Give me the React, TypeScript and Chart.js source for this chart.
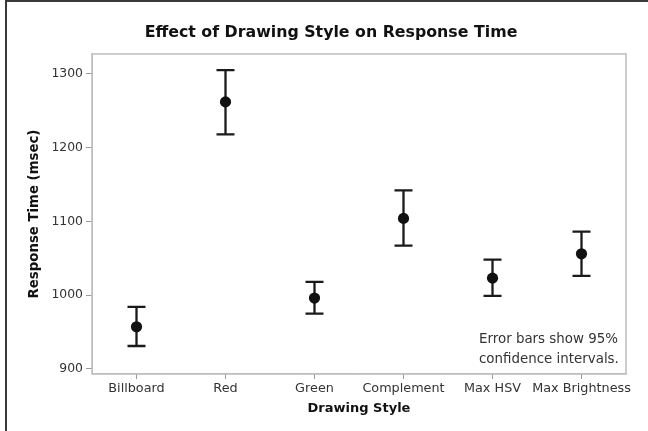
import React, { useEffect, useRef } from 'react';
import { Chart, registerables } from 'chart.js';

Chart.register(...registerables);

const categories = ['Billboard', 'Red', 'Green', 'Complement', 'Max HSV', 'Max Brightness'];
const means = [957, 1262, 996, 1104, 1023, 1056];
const lowerCI = [931, 1218, 975, 1067, 999, 1026];
const upperCI = [984, 1305, 1018, 1142, 1048, 1086];
const yTicks = [900, 1000, 1100, 1200, 1300];
const noteLines = ['Error bars show 95%', 'confidence intervals.'];

const FONT = '"DejaVu Sans", Verdana, sans-serif';

export default function App() {
  const ref = useRef<HTMLCanvasElement | null>(null);

  useEffect(() => {
    if (!ref.current) return;

    const errorBars = {
      id: 'errorBars',
      beforeDatasetsDraw(chart: any) {
        const { ctx, scales } = chart;
        const xs = scales.x;
        const ys = scales.y;
        ctx.save();
        ctx.strokeStyle = '#1a1a1a';
        ctx.lineWidth = 2.3;
        const cap = 9;
        categories.forEach((_, i) => {
          const x = xs.getPixelForValue(i);
          const yl = ys.getPixelForValue(lowerCI[i]);
          const yu = ys.getPixelForValue(upperCI[i]);
          ctx.beginPath();
          ctx.moveTo(x, yl);
          ctx.lineTo(x, yu);
          ctx.moveTo(x - cap, yl);
          ctx.lineTo(x + cap, yl);
          ctx.moveTo(x - cap, yu);
          ctx.lineTo(x + cap, yu);
          ctx.stroke();
        });
        ctx.restore();
      },
    };

    const frame = {
      id: 'frame',
      beforeDatasetsDraw(chart: any) {
        const { ctx, chartArea } = chart;
        ctx.save();
        ctx.strokeStyle = '#bdbdbd';
        ctx.lineWidth = 1.5;
        ctx.strokeRect(chartArea.left, chartArea.top, chartArea.right - chartArea.left, chartArea.bottom - chartArea.top);
        ctx.restore();
      },
      afterDraw(chart: any) {
        const { ctx, chartArea } = chart;
        ctx.save();
        ctx.fillStyle = '#333333';
        ctx.font = '13.4px ' + FONT;
        ctx.textAlign = 'left';
        ctx.textBaseline = 'middle';
        const x = chartArea.right - 147;
        noteLines.forEach((t, i) => {
          ctx.fillText(t, x, chartArea.bottom - 34 + i * 20);
        });
        ctx.restore();
      },
      afterLayout(chart: any) {
        const tb = chart.titleBlock;
        if (tb) {
          tb.left += 36;
        }
      },
    };

    const chart = new Chart(ref.current, {
      type: 'line',
      data: {
        labels: categories,
        datasets: [
          {
            data: means,
            showLine: false,
            pointRadius: 5.6,
            pointHoverRadius: 5.6,
            pointBackgroundColor: '#111111',
            pointBorderColor: '#111111',
            pointBorderWidth: 0,
          },
        ],
      },
      options: {
        animation: false,
        responsive: false,
        events: [],
        layout: { padding: { left: 0, right: 22, top: 0, bottom: 0 } },
        plugins: {
          legend: { display: false },
          tooltip: { enabled: false },
          title: {
            display: true,
            text: 'Effect of Drawing Style on Response Time',
            color: '#111111',
            font: { family: FONT, size: 15.8, weight: 'bold', lineHeight: 1.2 },
            padding: { top: 23, bottom: 12 },
          },
        },
        scales: {
          x: {
            type: 'category',
            offset: true,
            afterFit(s: any) {
              s.height = 57;
            },
            grid: {
              display: true,
              drawOnChartArea: false,
              drawTicks: true,
              tickLength: 5,
              color: '#9a9a9a',
              offset: false,
            },
            border: { display: true, color: '#bdbdbd' },
            ticks: {
              color: '#333333',
              font: { family: FONT, size: 12.8 },
              padding: 2,
              maxRotation: 0,
              autoSkip: false,
            },
            title: {
              display: true,
              text: 'Drawing Style',
              color: '#111111',
              font: { family: FONT, size: 13, weight: 'bold', lineHeight: 1.2 },
              padding: { top: 0, bottom: 15 },
            },
          },
          y: {
            type: 'linear',
            min: 893,
            max: 1327,
            afterFit(s: any) {
              s.width = 92;
            },
            afterBuildTicks(s: any) {
              s.ticks = yTicks.map((v) => ({ value: v }));
            },
            grid: {
              display: true,
              drawOnChartArea: false,
              drawTicks: true,
              tickLength: 6,
              color: '#9a9a9a',
            },
            border: { display: true, color: '#bdbdbd' },
            ticks: {
              color: '#333333',
              font: { family: FONT, size: 12.4 },
              padding: 3,
              callback: (v: any) => String(v),
            },
            title: {
              display: true,
              text: 'Response Time (msec)',
              color: '#111111',
              font: { family: FONT, size: 13.3, weight: 'bold', lineHeight: 1.2 },
              padding: { top: 27, bottom: 0 },
            },
          },
        },
      },
      plugins: [errorBars, frame],
    });

    return () => chart.destroy();
  }, []);

  return (
    <div style={{ position: 'fixed', left: 0, top: 0, width: 648, height: 431, background: '#ffffff', overflow: 'hidden' }}>
      <canvas ref={ref} width={648} height={431} style={{ position: 'absolute', left: 0, top: 0, width: 648, height: 431 }} />
      <div style={{ position: 'absolute', left: 5, top: 0, width: 2, height: 431, background: '#3a3a3a' }} />
      <div style={{ position: 'absolute', left: 5, top: 0, width: 643, height: 2, background: '#3a3a3a' }} />
    </div>
  );
}
